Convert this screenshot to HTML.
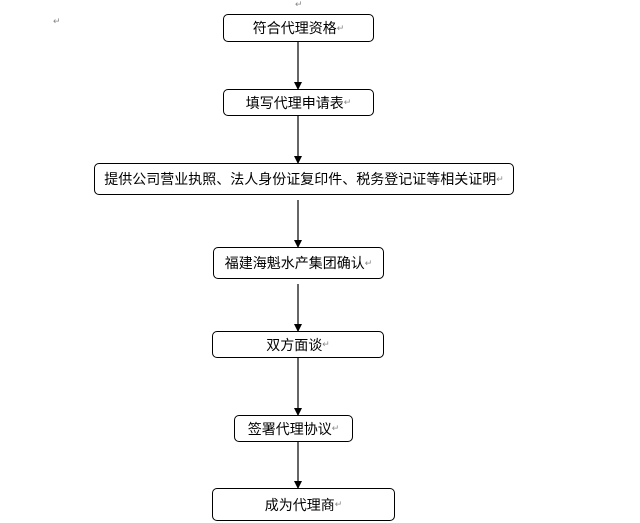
<!DOCTYPE html>
<html><head><meta charset="utf-8"><style>
body{margin:0;width:640px;height:523px;background:#fff;position:relative;overflow:hidden;font-family:"Liberation Sans","Noto Sans CJK SC",sans-serif;}
.b{position:absolute;border:1px solid #000;border-radius:5px;box-sizing:border-box;display:flex;align-items:center;justify-content:center;font-size:14px;color:#000;background:#fff;white-space:nowrap;}
.r{color:#888;font-size:9px;}
.m{position:absolute;color:#888;font-size:9px;}
svg{position:absolute;left:0;top:0;}
</style></head><body>
<svg width="640" height="523">
<defs><marker id="a" markerWidth="8" markerHeight="8" refX="7" refY="4" orient="auto" markerUnits="userSpaceOnUse"><path d="M0,0 L8,4 L0,8 z" fill="#000"/></marker></defs>
<g stroke="#000" stroke-width="1.2" marker-end="url(#a)">
<line x1="298" y1="42" x2="298" y2="89"/>
<line x1="298" y1="116" x2="298" y2="163"/>
<line x1="298" y1="200" x2="298" y2="247"/>
<line x1="298" y1="284" x2="298" y2="331"/>
<line x1="298" y1="358" x2="298" y2="415"/>
<line x1="298" y1="442" x2="298" y2="488"/>
</g></svg>
<div class="m" style="left:295px;top:-1px">↵</div>
<div class="m" style="left:53px;top:16px">↵</div>
<div class="b" style="left:223px;top:14px;width:151px;height:28px">符合代理资格<span class="r">↵</span></div>
<div class="b" style="left:223px;top:89px;width:151px;height:27px">填写代理申请表<span class="r">↵</span></div>
<div class="b" style="left:94px;top:163px;width:420px;height:32px">提供公司营业执照、法人身份证复印件、税务登记证等相关证明<span class="r">↵</span></div>
<div class="b" style="left:213px;top:247px;width:171px;height:32px">福建海魁水产集团确认<span class="r">↵</span></div>
<div class="b" style="left:212px;top:331px;width:172px;height:27px">双方面谈<span class="r">↵</span></div>
<div class="b" style="left:234px;top:415px;width:119px;height:27px">签署代理协议<span class="r">↵</span></div>
<div class="b" style="left:212px;top:488px;width:183px;height:33px">成为代理商<span class="r">↵</span></div>
</body></html>
